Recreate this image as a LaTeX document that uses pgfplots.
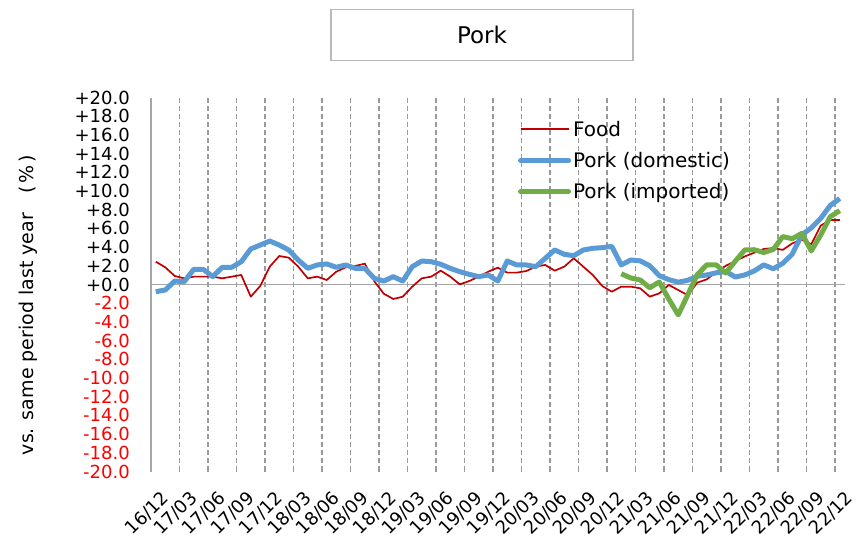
\documentclass[border=0pt]{standalone}
\usepackage{pgfplots}
\usepackage{pgfplotstable}
\pgfplotsset{compat=1.18}
\usepackage{fontspec}
\setmainfont{DejaVu Sans}

\definecolor{foodred}{HTML}{C00000}
\definecolor{porkblue}{HTML}{5B9BD5}
\definecolor{porkgreen}{HTML}{70AD47}
\definecolor{gridgray}{HTML}{A6A6A6}
\definecolor{dashgray}{HTML}{9A9A9A}

% month index (0 = 16/12) and change vs. same period last year (%)
\pgfplotstableread{
i  food   dom    imp
0  2.44  -0.77   nan
1  1.84  -0.59   nan
2  0.91   0.37   nan
3  0.66   0.30   nan
4  0.84   1.62   nan
5  0.84   1.62   nan
6  0.84   0.84   nan
7  0.66   1.84   nan
8  0.84   1.84   nan
9  1.02   2.44   nan
10 -1.30  3.80   nan
11 -0.16  4.22   nan
12  1.91  4.65   nan
13  3.05  4.22   nan
14  2.87  3.69   nan
15  1.91  2.62   nan
16  0.66  1.73   nan
17  0.84  2.09   nan
18  0.48  2.20   nan
19  1.37  1.84   nan
20  1.84  2.09   nan
21  1.98  1.73   nan
22  2.23  1.73   nan
23  0.35  0.66   nan
24 -0.98  0.37   nan
25 -1.55  0.84   nan
26 -1.30  0.37   nan
27 -0.23  1.91   nan
28  0.66  2.51   nan
29  0.84  2.44   nan
30  1.48  2.16   nan
31  0.84  1.73   nan
32  0.02  1.37   nan
33  0.37  1.09   nan
34  0.84  0.84   nan
35  1.37  1.02   nan
36  1.80  0.37   nan
37  1.27  2.51   nan
38  1.27  2.09   nan
39  1.44  2.09   nan
40  1.91  1.91   nan
41  2.09  2.80   nan
42  1.48  3.69   nan
43  1.91  3.23   nan
44  2.80  3.08   nan
45  1.91  3.69   nan
46  1.02  3.87   nan
47 -0.16  3.94   nan
48 -0.77  4.08   nan
49 -0.23  2.09   1.15
50 -0.23  2.62   0.70
51 -0.41  2.53   0.48
52 -1.30  2.00  -0.35
53 -0.95  0.95   0.27
54 -0.05  0.52  -1.55
55 -0.59  0.25  -3.25
56 -1.15  0.45  -1.10
57  0.20  0.88   1.05
58  0.55  1.02   2.10
59  1.35  1.25   2.09
60  2.00  1.40   1.23
61  2.50  0.80   2.50
62  3.00  1.02   3.69
63  3.40  1.45   3.72
64  3.80  2.10   3.42
65  3.90  1.68   3.75
66  3.70  2.26   5.12
67  4.40  3.25   4.90
68  4.80  5.30   5.47
69  4.30  6.05   3.60
70  6.30  7.08   5.30
71  6.90  8.45   7.25
72  6.90  9.20   7.90
}\porktable

\begin{document}
\begin{tikzpicture}
\useasboundingbox (0,0) rectangle (856bp,548bp);

\node[draw=gray!55, line width=1.2bp, minimum width=302bp, minimum height=51.5bp,
      inner sep=0pt, font=\fontsize{23bp}{26bp}\selectfont] at (482bp,513bp) {Pork};

\node[rotate=90, font=\fontsize{19bp}{22bp}\selectfont] at (28bp,243bp)
  {vs. same period last year\quad(\,\%\,)};

\begin{axis}[
  at={(151bp,76.5bp)}, anchor=south west,
  scale only axis, width=693.5bp, height=374bp,
  xmin=-0.5, xmax=72.5, ymin=-20, ymax=20,
  axis lines*=left,
  axis line style={-, draw=gridgray, line width=1.3bp},
  x axis line style={draw=none},
  major tick length=0pt,
  ytick={-20,-18,...,20},
  yticklabels={\textcolor{red}{-20.0},\textcolor{red}{-18.0},\textcolor{red}{-16.0},
    \textcolor{red}{-14.0},\textcolor{red}{-12.0},\textcolor{red}{-10.0},
    \textcolor{red}{-8.0},\textcolor{red}{-6.0},\textcolor{red}{-4.0},\textcolor{red}{-2.0},
    +0.0,+2.0,+4.0,+6.0,+8.0,+10.0,+12.0,+14.0,+16.0,+18.0,+20.0},
  yticklabel style={font=\fontsize{18bp}{20bp}\selectfont, inner sep=1bp, xshift=-20bp},
  xtick={0,3,...,72},
  xticklabels={16/12,17/03,17/06,17/09,17/12,18/03,18/06,18/09,18/12,19/03,19/06,19/09,
    19/12,20/03,20/06,20/09,20/12,21/03,21/06,21/09,21/12,22/03,22/06,22/09,22/12},
  % shifts act in the rotated frame of the label
  xticklabel style={font=\fontsize{18bp}{20bp}\selectfont, rotate=45, anchor=east,
    inner sep=1bp, xshift=-8.5bp, yshift=-23.5bp},
  extra x ticks={2.5,5.5,...,71.5},
  extra x tick labels={},
  extra x tick style={grid=major, major grid style={draw=dashgray, line width=1.3bp,
    dash pattern=on 5bp off 3bp}},
  extra y ticks={0},
  extra y tick labels={},
  extra y tick style={grid=major, major grid style={draw=gridgray, line width=1.3bp}},
  legend style={draw=none, fill=none, at={(0.529,0.943)}, anchor=north west,
    inner sep=0pt, row sep=10.5bp, font=\fontsize{20bp}{23bp}\selectfont,
    /tikz/every even column/.append style={column sep=4bp}},
  legend cell align=left,
  legend image code/.code={\draw[#1, line cap=round] (0bp,0bp) -- (48bp,0bp);},
  line join=round,
]
\addplot[color=foodred, line width=1.7bp,
  legend image code/.code={\draw[draw=foodred, line width=1.9bp] (0bp,0bp) -- (48bp,0bp);}]
  table[x=i, y=food] {\porktable};
\addlegendentry{Food}
\addplot[color=porkblue, line width=5bp] table[x=i, y=dom] {\porktable};
\addlegendentry{Pork (domestic)}
\addplot[color=porkgreen, line width=5bp] table[x=i, y=imp] {\porktable};
\addlegendentry{Pork (imported)}
\end{axis}
\end{tikzpicture}
\end{document}
